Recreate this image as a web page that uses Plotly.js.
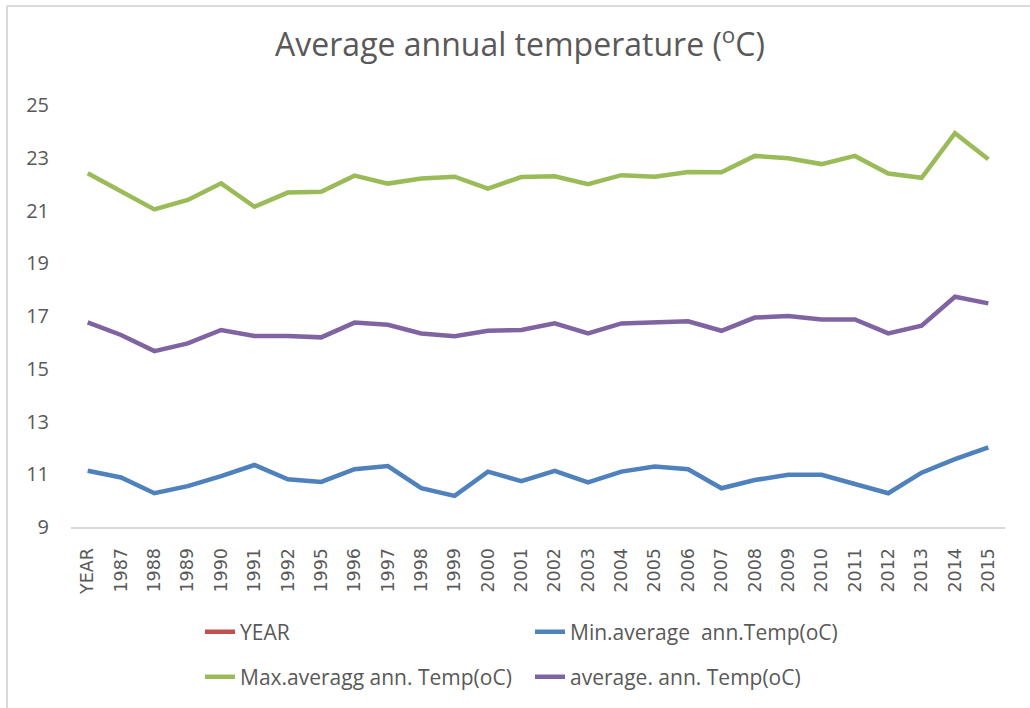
<!DOCTYPE html>
<html>
<head>
<meta charset="utf-8">
<script src="https://cdn.plot.ly/plotly-3.0.1.min.js"></script>
<style>html,body{margin:0;padding:0;background:#fff;}#chart{width:1030px;height:708px;}</style>
</head>
<body>
<div id="chart"></div>
<script>
const categories = ["YEAR","1987","1988","1989","1990","1991","1992","1995","1996","1997","1998","1999","2000","2001","2002","2003","2004","2005","2006","2007","2008","2009","2010","2011","2012","2013","2014","2015"];
const yearSeries = [null,1987,1988,1989,1990,1991,1992,1995,1996,1997,1998,1999,2000,2001,2002,2003,2004,2005,2006,2007,2008,2009,2010,2011,2012,2013,2014,2015];
const minTemp = [11.13,10.88,10.28,10.55,10.93,11.35,10.81,10.71,11.19,11.31,10.47,10.18,11.10,10.74,11.13,10.69,11.10,11.29,11.19,10.47,10.78,10.98,10.98,10.63,10.28,11.06,11.57,12.02];
const maxTemp = [22.41,21.71,21.04,21.40,22.03,21.14,21.68,21.71,22.32,22.02,22.21,22.28,21.83,22.27,22.30,22.00,22.34,22.28,22.46,22.45,23.07,22.98,22.76,23.07,22.40,22.24,23.93,22.94];
const avgTemp = [16.76,16.28,15.67,15.96,16.47,16.24,16.24,16.19,16.75,16.67,16.34,16.23,16.44,16.47,16.72,16.34,16.72,16.77,16.80,16.44,16.94,17.00,16.87,16.87,16.34,16.63,17.73,17.48];
const seriesNames = ["YEAR","Min.average  ann.Temp(oC)","Max.averagg ann. Temp(oC)","average. ann. Temp(oC)"];
const yTicks = [9,11,13,15,17,19,21,23,25];

const mk = (y, name, color, legend) => ({
  x: categories, y: y, name: name, type: 'scatter', mode: 'lines',
  line: {color: color, width: 4.5}, legend: legend, connectgaps: false
});
const data = [
  mk(yearSeries, seriesNames[0], '#C0504D', 'legend'),
  mk(minTemp, seriesNames[1], '#4F81BD', 'legend'),
  mk(maxTemp, seriesNames[2], '#9BBB59', 'legend2'),
  mk(avgTemp, seriesNames[3], '#8064A2', 'legend2')
];
const legendBase = {
  orientation: 'h', xref: 'container', yref: 'container', x: 200/1030, xanchor: 'left',
  yanchor: 'middle', entrywidth: 285, entrywidthmode: 'pixels',
  font: {family: 'Open Sans, sans-serif', size: 21, color: '#595959'},
  bgcolor: 'rgba(0,0,0,0)', traceorder: 'normal'
};
const layout = {
  width: 1030, height: 708,
  margin: {l: 71, r: 25, t: 105, b: 181},
  paper_bgcolor: '#ffffff', plot_bgcolor: '#ffffff',
  title: {text: 'Average annual temperature (<sup>o</sup>C)', x: 520/1030, xanchor: 'center',
    y: 1 - 45/708, yanchor: 'middle', xref: 'container', yref: 'container',
    font: {family: 'Open Sans, sans-serif', size: 32, color: '#595959'}},
  xaxis: {type: 'category', categoryorder: 'array', categoryarray: categories,
    range: [-0.5, categories.length - 0.5],
    tickangle: -90, showgrid: false, zeroline: false, showline: true, linecolor: '#d9d9d9', linewidth: 2,
    ticks: '', ticklabelstandoff: 12,
    tickfont: {family: 'DejaVu Sans, sans-serif', size: 17.5, color: '#595959'}},
  yaxis: {range: [9, 25], tickvals: yTicks, ticktext: yTicks.map(String), showgrid: false, zeroline: false,
    showline: false, ticks: '', ticklabelstandoff: 21,
    tickfont: {family: 'Open Sans, sans-serif', size: 20, color: '#595959'}},
  legend: Object.assign({}, legendBase, {y: 1 - 632/708}),
  legend2: Object.assign({}, legendBase, {y: 1 - 677/708}),
  shapes: [
    {type: 'line', xref: 'paper', yref: 'paper', x0: -64/934, x1: 1100/934, y0: 1 + 99/422, y1: 1 + 99/422, line: {color: '#d9d9d9', width: 2}},
    {type: 'line', xref: 'paper', yref: 'paper', x0: -64/934, x1: -64/934, y0: 1 + 99/422, y1: -200/422, line: {color: '#d9d9d9', width: 2}}
  ],
  showlegend: true
};
Plotly.newPlot('chart', data, layout, {displayModeBar: false, staticPlot: true});
</script>
</body>
</html>
